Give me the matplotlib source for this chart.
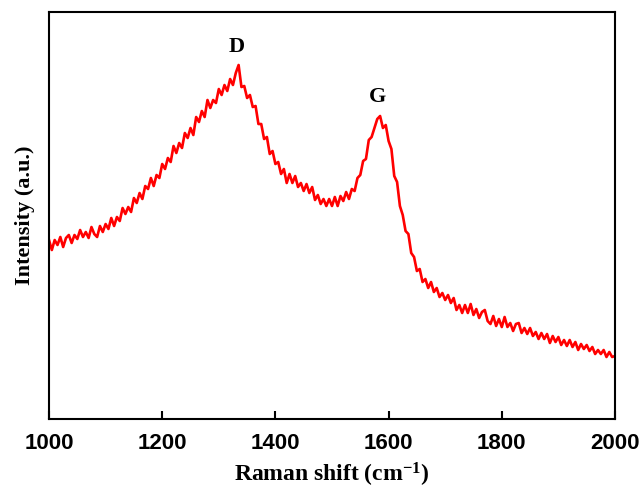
import numpy as np
import matplotlib
matplotlib.use("Agg")
import matplotlib.pyplot as plt

plt.rcParams['mathtext.fontset'] = 'custom'
plt.rcParams['mathtext.rm'] = 'Liberation Serif:bold'
plt.rcParams['mathtext.it'] = 'Liberation Serif:bold'
plt.rcParams['mathtext.bf'] = 'Liberation Serif:bold'

# Raman shift, 1000 -> 2000 cm-1, step 5
shift = np.arange(1000, 2001, 5)

# intensity (arbitrary units)
intensity = [
    179, 169, 179, 174, 182, 172, 181, 184, 176, 184,
    180, 189, 182, 187, 181, 192, 185, 182, 193, 187,
    195, 190, 201, 193, 202, 198, 211, 205, 212, 207,
    221, 216, 226, 220, 233, 230, 241, 233, 244, 241,
    255, 250, 261, 257, 273, 266, 276, 271, 286, 281,
    291, 284, 302, 297, 308, 302, 319, 311, 319, 316,
    330, 324, 334, 328, 340, 334, 346, 354, 332, 333,
    321, 324, 312, 313, 295, 295, 280, 282, 265, 268,
    255, 257, 245, 250, 236, 245, 236, 243, 232, 236,
    228, 235, 226, 232, 219, 224, 215, 220, 213, 220,
    213, 222, 213, 223, 218, 227, 220, 230, 228, 241,
    244, 258, 260, 279, 282, 291, 300, 303, 291, 294,
    278, 270, 243, 237, 213, 204, 188, 185, 166, 162,
    148, 150, 137, 140, 131, 137, 127, 131, 122, 126,
    119, 124, 116, 121, 109, 114, 106, 114, 106, 115,
    104, 110, 101, 107, 109, 98, 95, 103, 93, 100,
    92, 102, 92, 96, 88, 95, 96, 86, 91, 85,
    91, 83, 87, 80, 86, 80, 85, 76, 83, 77,
    82, 74, 79, 73, 79, 72, 77, 69, 75, 70,
    74, 68, 72, 65, 69, 65, 69, 62, 67, 62,
    63,
]

peaks = ['D', 'G']
peak_pos = [1332, 1581]
peak_lab_y = [372, 322]

xticks = [1000, 1200, 1400, 1600, 1800, 2000]

fig = plt.figure(figsize=(6.39, 4.9), dpi=100)
ax = fig.add_axes([0.0767, 0.1449, 0.8857, 0.8306])

ax.plot(shift, intensity, color='#ff0000', lw=1.9)

for lab, xp, yp in zip(peaks, peak_pos, peak_lab_y):
    ax.text(xp, yp, lab, ha='center', va='center', fontsize=16,
            fontweight='bold', family='Liberation Serif')

ax.set_xlim(1000, 2000)
ax.set_ylim(0, 407)
ax.set_xticks(xticks)
ax.set_xticklabels([str(t) for t in xticks], fontsize=16, fontweight='bold',
                   family='Liberation Sans')
ax.set_yticks([])
ax.tick_params(axis='x', direction='in', length=6, width=1.5, pad=10)
for s in ax.spines.values():
    s.set_linewidth(1.5)

ax.set_xlabel('Raman shift (cm$^{-1}$)', fontsize=17, fontweight='bold',
              family='Liberation Serif', labelpad=5)
ax.set_ylabel('Intensity (a.u.)', fontsize=16, fontweight='bold',
              family='Liberation Serif', labelpad=10)

fig.savefig('out.png', dpi=100)
